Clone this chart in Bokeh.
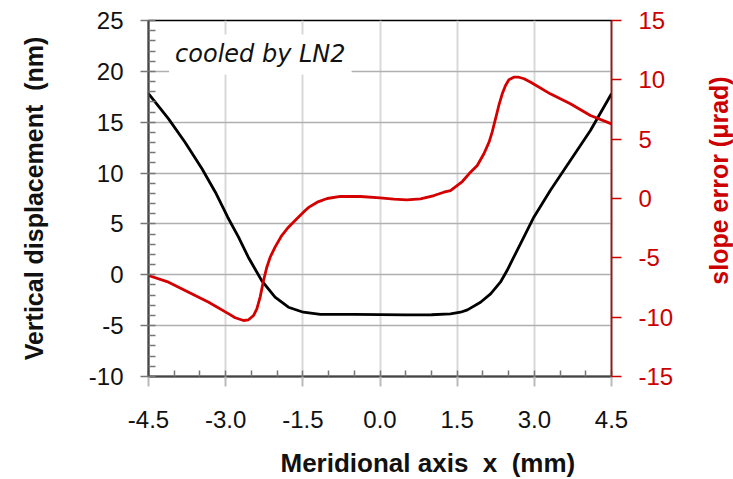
import numpy as np
from bokeh.plotting import figure
from bokeh.layouts import row, column
from bokeh.models import LinearAxis, Range1d, FixedTicker, PrintfTickFormatter, Label
from bokeh.embed import file_html
from bokeh.resources import INLINE

# ---- data ----
x_disp = [-4.5, -4.11, -3.79, -3.46, -3.20, -2.96, -2.75, -2.56, -2.30, -2.04, -1.78,
          -1.49, -1.16, -0.5, 0.0, 0.5, 1.0, 1.37, 1.565, 1.70, 1.954, 2.15, 2.34, 2.47,
          2.60, 2.73, 2.99, 3.31, 3.70, 4.09, 4.5]
disp_nm = [17.8, 15.33, 13.03, 10.42, 8.12, 5.66, 3.7, 1.73, -0.57, -2.2, -3.19,
           -3.68, -3.9, -3.9, -3.92, -3.95, -3.93, -3.84, -3.68, -3.45, -2.7, -1.87, -0.73, 0.42,
           1.73, 3.04, 5.66, 8.28, 11.23, 14.18, 17.8]

x_slope = [-4.5, -4.11, -3.72, -3.33, -2.94, -2.815, -2.653, -2.556, -2.459, -2.394, -2.33,
           -2.264, -2.20, -2.135, -2.04, -1.91, -1.78, -1.617, -1.454, -1.38, -1.22, -1.026,
           -0.77, -0.379, 0.0, 0.27, 0.52, 0.788, 1.05, 1.24, 1.37, 1.60, 1.73, 1.89, 2.02,
           2.12, 2.18, 2.245, 2.31, 2.376, 2.44, 2.505, 2.60, 2.70, 2.80, 2.93, 3.31, 3.70,
           4.09, 4.5]
slope_urad = [-6.49, -7.05, -7.9, -8.74, -9.72, -10.05, -10.28, -10.22, -9.86, -9.3, -8.31,
              -6.91, -5.79, -4.95, -4.1, -3.12, -2.42, -1.71, -1.01, -0.73, -0.31, 0.0,
              0.17, 0.17, 0.06, -0.06, -0.11, -0.03, 0.25, 0.53, 0.67, 1.43, 2.08, 2.78, 3.77,
              4.75, 5.59, 6.71, 7.84, 8.82, 9.52, 10.0, 10.22, 10.22, 10.09, 9.8, 8.82, 7.98,
              6.99, 6.29]

x_ticks = [-4.5, -3.0, -1.5, 0.0, 1.5, 3.0, 4.5]
x_minor_ticks = [-4.5, -4.0, -3.5, -3.0, -2.5, -2.0, -1.5, -1.0, -0.5, 0.0, 0.5, 1.0,
                 1.5, 2.0, 2.5, 3.0, 3.5, 4.0, 4.5]
left_ticks = [-10, -5, 0, 5, 10, 15, 20, 25]
left_minor_ticks = list(range(-10, 26))
right_ticks = [-15, -10, -5, 0, 5, 10, 15]

x_title = "Meridional axis \u00a0x \u00a0(mm)"
left_title = "Vertical displacement \u00a0(nm)"
right_title = "slope error (μrad)"
note_text = "cooled by LN2"

FONT = "Liberation Sans"
RED = "#d40000"
LABEL_RED = "#cc0000"
INK = "#111111"

MAIN_W, MAIN_H = 703, 445
SIDE_W = 30
BOTTOM_H = 34

p = figure(width=MAIN_W, height=MAIN_H,
           x_range=Range1d(-4.5, 4.5), y_range=Range1d(-10, 25),
           output_backend="svg", toolbar_location=None,
           min_border_left=148, min_border_right=92,
           min_border_top=20, min_border_bottom=69)
p.extra_y_ranges = {"slope": Range1d(-15, 15)}
p.outline_line_color = "black"
p.outline_line_width = 1.5
p.background_fill_color = "white"
p.border_fill_color = "white"

# x axis
xa = p.xaxis[0]
xa.ticker = FixedTicker(ticks=x_ticks, minor_ticks=x_minor_ticks)
xa.formatter = PrintfTickFormatter(format="%.1f")
xa.major_label_text_font = FONT
xa.major_label_text_font_size = "24px"
xa.major_label_text_color = INK
xa.major_label_standoff = 24
xa.axis_line_color = "#444444"
xa.axis_line_width = 2
xa.major_tick_line_color = "#bbbbbb"
xa.major_tick_line_width = 2
xa.major_tick_out = 10
xa.major_tick_in = 0
xa.minor_tick_line_color = "#777777"
xa.minor_tick_line_width = 1.5
xa.minor_tick_in = 6
xa.minor_tick_out = 0

# left axis
ya = p.yaxis[0]
ya.ticker = FixedTicker(ticks=left_ticks, minor_ticks=left_minor_ticks)
ya.formatter = PrintfTickFormatter(format="%d")
ya.axis_label = left_title
ya.axis_label_text_font = FONT
ya.axis_label_text_font_style = "bold"
ya.axis_label_text_font_size = "25px"
ya.axis_label_text_color = INK
ya.axis_label_standoff = 38
ya.major_label_text_font = FONT
ya.major_label_text_font_size = "24px"
ya.major_label_text_color = INK
ya.major_label_standoff = 17
ya.axis_line_color = "#444444"
ya.axis_line_width = 2
ya.major_tick_line_color = "#777777"
ya.major_tick_line_width = 1.5
ya.major_tick_out = 8
ya.major_tick_in = 0
ya.minor_tick_line_color = "#777777"
ya.minor_tick_line_width = 1.5
ya.minor_tick_in = 7
ya.minor_tick_out = 0

# right axis (its title is drawn in a narrow side panel so it reads bottom-to-top)
ra = LinearAxis(y_range_name="slope", ticker=FixedTicker(ticks=right_ticks),
                formatter=PrintfTickFormatter(format="%d"))
ra.major_label_text_font = FONT
ra.major_label_text_font_size = "24px"
ra.major_label_text_color = LABEL_RED
ra.major_label_standoff = 17
ra.axis_line_color = LABEL_RED
ra.axis_line_width = 1.5
ra.major_tick_line_color = LABEL_RED
ra.major_tick_line_width = 1.5
ra.major_tick_out = 10
ra.major_tick_in = 0
ra.minor_tick_line_color = None
p.add_layout(ra, "right")

# grids
p.xgrid.ticker = FixedTicker(ticks=x_ticks)
p.xgrid.grid_line_color = "#d9d9d9"
p.xgrid.grid_line_width = 2
p.ygrid.ticker = FixedTicker(ticks=left_ticks)
p.ygrid.grid_line_color = "#b0b0b0"
p.ygrid.grid_line_width = 1.5

# curves
p.line(x_disp, disp_nm, line_color="black", line_width=2.8, line_join="round")
p.line(x_slope, slope_urad, y_range_name="slope", line_color=RED, line_width=2.8,
       line_join="round")

# annotation
lab = Label(x=-4.1, y=21.66, text=note_text,
            text_font="DejaVu Sans", text_font_style="italic", text_font_size="24px",
            text_color=INK, text_baseline="alphabetic",
            background_fill_color="white", padding=6)
p.add_layout(lab)


def blank_panel(w, h):
    f = figure(width=w, height=h, x_range=Range1d(0, w), y_range=Range1d(0, h),
               output_backend="svg", toolbar_location=None,
               min_border=0, min_border_left=0, min_border_right=0,
               min_border_top=0, min_border_bottom=0)
    f.axis.visible = False
    f.grid.visible = False
    f.outline_line_color = None
    f.background_fill_color = "white"
    f.border_fill_color = "white"
    return f


# side panel: right-axis title
side = blank_panel(SIDE_W, MAIN_H)
side.add_layout(Label(x=15, y=MAIN_H - 200, text=right_title, angle=np.pi / 2,
                      text_font=FONT, text_font_style="bold", text_font_size="25px",
                      text_color=LABEL_RED, text_align="center", text_baseline="middle"))

# bottom panel: x-axis title (offset to the right, as in the reference)
bottom = blank_panel(MAIN_W + SIDE_W, BOTTOM_H)
bottom.add_layout(Label(x=280, y=BOTTOM_H / 2, text=x_title,
                        text_font=FONT, text_font_style="bold", text_font_size="26px",
                        text_color=INK, text_align="left", text_baseline="middle"))

layout = column(row(p, side, spacing=0), bottom, spacing=0)
open("out.html", "w").write(file_html(layout, INLINE))
